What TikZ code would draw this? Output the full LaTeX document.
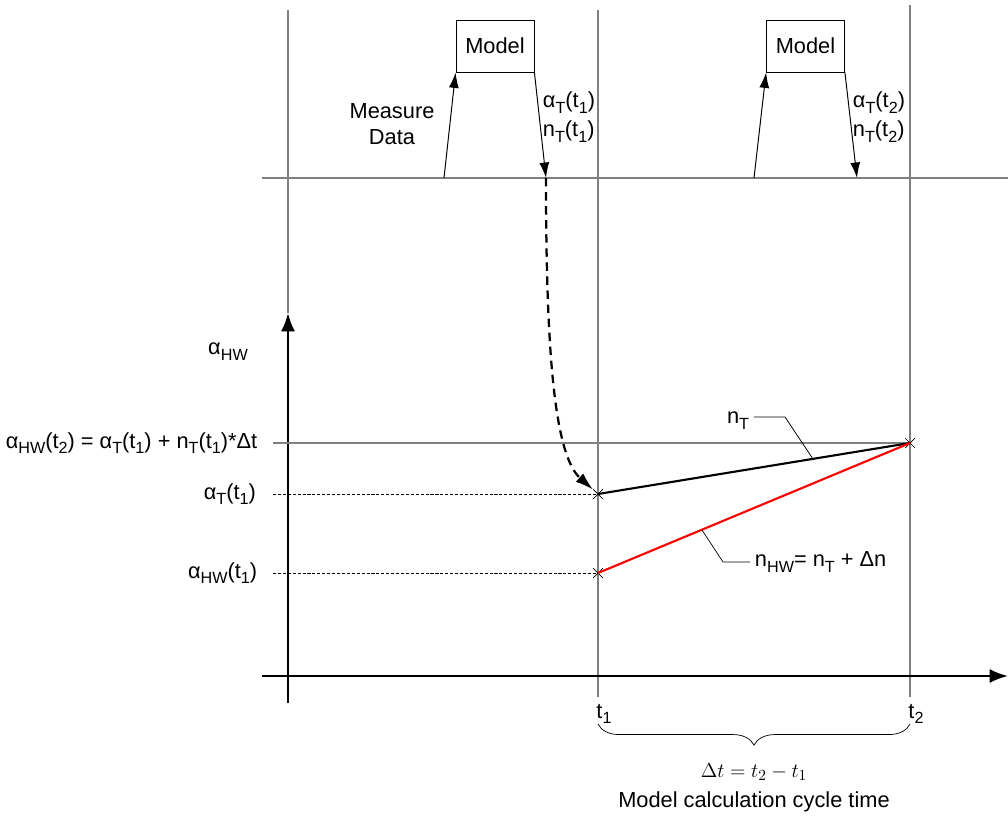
\documentclass[tikz,border=0pt]{standalone}
\usepackage[no-math]{fontspec}
\setmainfont{Liberation Sans}
\usetikzlibrary{arrows.meta,shapes.misc,decorations.pathreplacing}
\newcommand{\lowidx}[1]{\raisebox{-0.5ex}{\fontsize{11.5}{12}\selectfont #1}}
\tikzset{
  gridline/.style={draw=gray, line width=0.8pt},
  axis/.style={draw=black, line width=1.7pt, -{Latex[length=13pt,width=10pt]}},
  flow/.style={draw=black, line width=0.7pt, -{Latex[length=11pt,width=7pt]}},
  feed/.style={draw=black, line width=1.6pt, dash pattern=on 6pt off 4pt, -{Latex[length=13pt,width=8pt]}},
  guide/.style={draw=black, line width=0.6pt, dash pattern=on 2.2pt off 1.3pt},
  leader/.style={draw=black, line width=0.5pt},
  model/.style={draw, line width=0.6pt, minimum width=1.95cm, minimum height=1.3cm, inner sep=0pt},
  crossmark/.style={cross out, draw, line width=0.5pt, minimum size=0.22cm, inner sep=0pt}
}
\begin{document}
\begin{tikzpicture}[x=0.025cm, y=-0.025cm, every node/.style={font=\fontsize{15.5}{18}\selectfont}]
  \useasboundingbox (0,0) rectangle (1008,817);
  \coordinate (Ytop) at (288,10);
  \coordinate (Ybot) at (288,703);
  \coordinate (Ytip) at (288,313);
  \coordinate (T1top) at (598,10);
  \coordinate (T1bot) at (598,697);
  \coordinate (T2top) at (910,5);
  \coordinate (T2bot) at (910,697);
  \coordinate (Xl) at (262,676);
  \coordinate (Xr) at (1008,676);
  \coordinate (Ll) at (262,178);
  \coordinate (Lr) at (1008,178);
  \coordinate (In1) at (444,178);
  \coordinate (Out1) at (546,178);
  \coordinate (In2) at (754,178);
  \coordinate (Out2) at (857,178);
  \coordinate (BL) at (598,724);
  \coordinate (BR) at (910,724);

  % time grid
  \draw[gridline] (Ytop)--(Ytip);
  \draw[gridline] (T1top)--(T1bot);
  \draw[gridline] (T2top)--(T2bot);
  \draw[gridline] (Ll)--(Lr);
  \draw[axis] (Ybot)--(Ytip);
  \draw[axis] (Xl)--(Xr);

  % model calls
  \node[model] (M1) at (495,46) {Model};
  \node[model] (M2) at (805.5,46) {Model};
  \draw[flow] (In1)--(M1.south west);
  \draw[flow] (M1.south east)--(Out1);
  \draw[flow] (In2)--(M2.south west);
  \draw[flow] (M2.south east)--(Out2);

  \node[align=center] (meas) at (392,124) {Measure\\Data};
  \node[anchor=west, align=left] (out1) at (538,117) {α\lowidx{T}(t\lowidx{1})\\[2.5pt]n\lowidx{T}(t\lowidx{1})};
  \node[anchor=west, align=left] (out2) at (848,117) {α\lowidx{T}(t\lowidx{2})\\[2.5pt]n\lowidx{T}(t\lowidx{2})};

  % values
  \node[crossmark] (A1) at (598,494) {};
  \node[crossmark] (H1) at (598,573) {};
  \node[crossmark] (H2) at (910,443) {};

  \node (ahw) at (228,352) {α\lowidx{HW}};
  \node[anchor=east, inner xsep=11pt] (eq) at (273,443) {α\lowidx{HW}(t\lowidx{2}) = α\lowidx{T}(t\lowidx{1}) + n\lowidx{T}(t\lowidx{1})*Δt};
  \node[anchor=east, inner xsep=12pt] (aT) at (273,494) {α\lowidx{T}(t\lowidx{1})};
  \node[anchor=east, inner xsep=11pt] (aH) at (273,573) {α\lowidx{HW}(t\lowidx{1})};
  \draw[gridline] (eq.east)--(H2.center);
  \draw[guide] (aT.east)--(A1.center);
  \draw[guide] (aH.east)--(H1.center);

  \draw[feed] (Out1) .. controls (546,350) and (554,455) .. (A1);
  \draw[black, line width=1.5pt] (A1.center)--(H2.center);
  \draw[red, line width=1.5pt] (H1.center)--(H2.center);

  % leaders
  \node[anchor=east] (nT) at (754,421) {n\lowidx{T}};
  \coordinate (nTk) at (785,417);
  \coordinate (nTe) at (813,459);
  \draw[leader] (nT.east|-nTk)--(nTk)--(nTe);
  \node[anchor=west] (nHW) at (750,562) {n\lowidx{HW}= n\lowidx{T} + Δn};
  \coordinate (nHWk) at (723,562);
  \coordinate (nHWe) at (702,530);
  \draw[leader] (nHW.west)--(nHWk)--(nHWe);

  % cycle time
  \node (t1) at (604,714) {t\lowidx{1}};
  \node (t2) at (916,714) {t\lowidx{2}};
  \draw[leader, decorate, decoration={brace, mirror, amplitude=15pt}] (BL)--(BR);
  \node (dt) at (754,772) {\fontsize{15}{17}\selectfont $\Delta t = t_2 - t_1$};
  \node (cyc) at (754,802) {Model calculation cycle time};
\end{tikzpicture}
\end{document}
